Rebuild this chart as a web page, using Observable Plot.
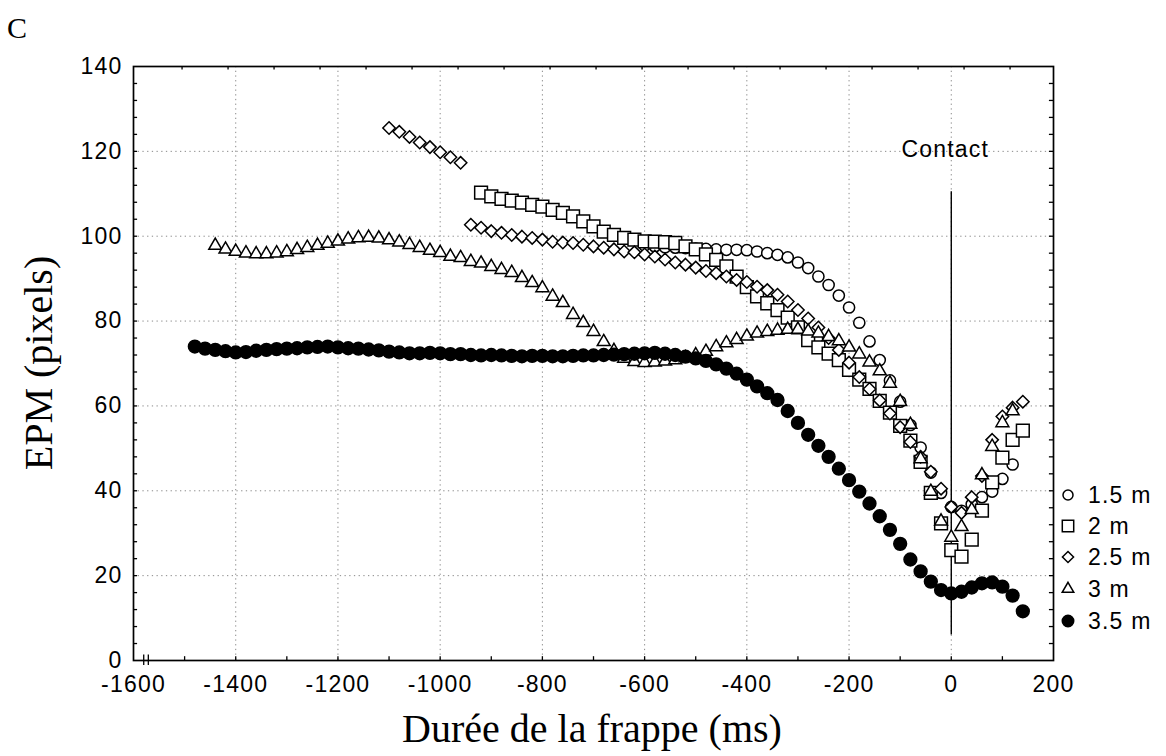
<!DOCTYPE html>
<html><head><meta charset="utf-8">
<script src="https://cdn.jsdelivr.net/npm/d3@7"></script>
<script src="https://cdn.jsdelivr.net/npm/@observablehq/plot@0.6"></script>
<style>
body{margin:0;background:#fff;}
#wrap{position:relative;width:1166px;height:756px;overflow:hidden;background:#fff;}
.lbl{position:absolute;white-space:nowrap;color:#000;}
.serif{font-family:"Liberation Serif","Times New Roman",serif;}
.sans{font-family:"Liberation Sans",Arial,sans-serif;}
</style></head>
<body><div id="wrap"></div>
<script>
// ---- data (time in ms, EPM in pixels) ----
const s15 = [[-600,97.8],[-580,97.6],[-560,97.4],[-540,97.3],[-520,97.2],[-500,97.1],[-480,97.0],[-460,96.9],[-440,96.8],[-420,96.8],[-400,96.7],[-380,96.4],[-360,96.0],[-340,95.6],[-320,95.0],[-300,93.8],[-280,92.5],[-260,90.5],[-240,88.5],[-220,86.0],[-200,83.2],[-180,79.6],[-160,75.2],[-140,70.8],[-120,66.0],[-100,61.0],[-80,55.5],[-60,50.2],[-40,44.3],[-20,39.5],[0,36.2],[20,35.3],[40,36.8],[60,38.5],[80,39.8],[100,42.8],[120,46.2]];
const s2 = [[-920,110.3],[-900,109.4],[-880,108.8],[-860,108.4],[-840,107.9],[-820,107.4],[-800,107.0],[-780,106.2],[-760,105.5],[-740,104.7],[-720,103.5],[-700,102.3],[-680,101.1],[-660,100.3],[-640,99.6],[-620,99.2],[-600,98.8],[-580,98.7],[-560,98.6],[-540,98.4],[-520,97.6],[-500,96.9],[-480,95.7],[-460,94.4],[-440,92.9],[-420,90.5],[-400,88.0],[-380,85.8],[-360,84.2],[-340,82.6],[-320,80.8],[-300,78.5],[-280,75.5],[-260,73.8],[-240,72.3],[-220,70.8],[-200,68.5],[-180,66.2],[-160,64.0],[-140,61.2],[-120,58.4],[-100,55.3],[-80,51.8],[-60,46.8],[-40,39.5],[-20,32.3],[0,26.0],[20,24.5],[40,28.5],[60,35.3],[80,42.0],[100,47.8],[120,52.0],[140,54.2]];
const s25 = [[-1100,125.5],[-1080,124.6],[-1060,123.4],[-1040,122.1],[-1020,121.0],[-1000,119.8],[-980,118.6],[-960,117.3],
[-940,102.7],[-920,102.0],[-900,101.2],[-880,100.8],[-860,100.3],[-840,99.9],[-820,99.6],[-800,99.2],[-780,98.7],[-760,98.5],[-740,98.4],[-720,98.0],[-700,97.6],[-680,97.3],[-660,96.9],[-640,96.4],[-620,96.2],[-600,95.7],[-580,95.2],[-560,94.5],[-540,93.8],[-520,93.3],[-500,92.6],[-480,91.8],[-460,91.3],[-440,90.5],[-420,89.7],[-400,89.2],[-380,88.1],[-360,87.3],[-340,86.2],[-320,84.6],[-300,82.6],[-280,80.6],[-260,78.5],[-240,76.0],[-220,73.2],[-200,70.2],[-180,66.8],[-160,64.0],[-140,61.3],[-120,58.2],[-100,55.0],[-80,51.5],[-60,48.0],[-40,44.5],[-20,40.5],[0,36.2],[20,34.8],[40,38.5],[60,43.5],[80,52.0],[100,57.5],[120,59.6],[140,61.0]];
const s3 = [[-1440,97.8],[-1420,96.9],[-1400,96.4],[-1380,96.0],[-1360,95.8],[-1340,95.8],[-1320,96.0],[-1300,96.3],[-1280,96.8],[-1260,97.3],[-1240,97.8],[-1220,98.3],[-1200,98.8],[-1180,99.3],[-1160,99.6],[-1140,99.7],[-1120,99.5],[-1100,99.1],[-1080,98.6],[-1060,98.0],[-1040,97.3],[-1020,96.6],[-1000,96.1],[-980,95.2],[-960,94.9],[-940,94.0],[-920,93.6],[-900,92.8],[-880,92.1],[-860,91.4],[-840,90.2],[-820,89.0],[-800,87.8],[-780,85.8],[-760,84.3],[-740,81.5],[-720,79.6],[-700,77.5],[-680,75.1],[-660,73.0],[-640,71.2],[-620,70.4],[-600,70.2],[-580,70.3],[-560,70.5],[-540,70.8],[-520,71.3],[-500,72.0],[-480,72.8],[-460,73.9],[-440,74.8],[-420,75.6],[-400,76.4],[-380,77.1],[-360,77.5],[-340,77.8],[-320,78.0],[-300,78.0],[-280,77.6],[-260,77.1],[-240,76.3],[-220,75.3],[-200,73.8],[-180,72.2],[-160,70.3],[-140,68.2],[-120,65.3],[-100,61.0],[-80,55.6],[-60,47.5],[-40,39.8],[-20,32.8],[0,29.0],[20,31.5],[40,35.5],[60,43.7],[80,50.4],[100,56.0],[120,58.8]];
const s35 = [[-1480,74.0],[-1460,73.5],[-1440,73.2],[-1420,72.9],[-1400,72.6],[-1380,72.7],[-1360,73.0],[-1340,73.2],[-1320,73.4],[-1300,73.5],[-1280,73.6],[-1260,73.8],[-1240,73.9],[-1220,74.0],[-1200,73.8],[-1180,73.6],[-1160,73.5],[-1140,73.3],[-1120,73.1],[-1100,72.8],[-1080,72.6],[-1060,72.4],[-1040,72.4],[-1020,72.5],[-1000,72.4],[-980,72.2],[-960,72.2],[-940,72.0],[-920,71.9],[-900,72.0],[-880,71.9],[-860,71.8],[-840,71.7],[-820,71.8],[-800,71.8],[-780,71.7],[-760,71.7],[-740,71.8],[-720,71.9],[-700,71.9],[-680,72.0],[-660,72.1],[-640,72.2],[-620,72.3],[-600,72.4],[-580,72.5],[-560,72.3],[-540,72.0],[-520,71.6],[-500,71.2],[-480,70.6],[-460,69.8],[-440,68.8],[-420,67.6],[-400,66.2],[-380,64.6],[-360,63.0],[-340,61.4],[-320,58.8],[-300,56.0],[-280,53.2],[-260,50.6],[-240,48.0],[-220,45.2],[-200,42.5],[-180,39.8],[-160,37.0],[-140,34.0],[-120,30.8],[-100,27.5],[-80,23.8],[-60,21.0],[-40,18.6],[-20,16.6],[0,15.8],[20,16.2],[40,17.2],[60,18.2],[80,18.4],[100,17.4],[120,15.3],[140,11.6]];

const seriesNames = ["1.5 m","2 m","2.5 m","3 m","3.5 m"];
const seriesData = [s15, s2, s25, s3, s35];

// axes / ticks
const xTicks = [-1600,-1400,-1200,-1000,-800,-600,-400,-200,0,200];
const yTicks = [0,20,40,60,80,100,120,140];
const xGrid = [-1400,-1200,-1000,-800,-600,-400,-200,0];
const yGrid = [20,40,60,80,100,120];
const xInnerTicks = [-1500,-1400,-1300,-1200,-1100,-1000,-900,-800,-700,-600,-500,-400,-300,-200,-100,0,100];
const yInnerTicks = d3.range(4, 140, 4);
const xTopTicks = [-1505,-1415,-1325,-1235,-1145,-1055,-965,-875,-785,-695,-605,-515,-425,-335,-245,-155,-65,25,115];
const axisBreak = [-1580,-1571];
const contact = [{x: 0, y1: 6, y2: 110.5, label: "Contact", ly: 120.5}];

// styles (not data)
const symbolStyle = [
  {symbol: "circle", r: 5.6, fill: "#fff"},
  {symbol: "square", r: 7.2, fill: "#fff"},
  {symbol: "diamond2", r: 5.6, fill: "#fff"},
  {symbol: "triangle", r: 4.8, fill: "#fff"},
  {symbol: "circle", r: 6.4, fill: "#000"}
];

const fmt = d => String(d);
const marks = [
  Plot.gridX(xGrid, {stroke: "#8a8a8a", strokeOpacity: 1, strokeWidth: 1, strokeDasharray: "1.3,3.4"}),
  Plot.gridY(yGrid, {stroke: "#8a8a8a", strokeOpacity: 1, strokeWidth: 1, strokeDasharray: "1.3,3.4"}),
  Plot.ruleX(xInnerTicks, {y1: 0, y2: 0.9, stroke: "#000", strokeWidth: 1.3}),
  Plot.ruleX(xTopTicks, {y1: 140, y2: 139.2, stroke: "#000", strokeWidth: 1.3}),
  Plot.ruleY(yInnerTicks, {x1: -1600, x2: -1592, stroke: "#000", strokeWidth: 1.3}),
  Plot.ruleY(yInnerTicks, {x1: 200, x2: 192, stroke: "#000", strokeWidth: 1.3}),
  Plot.ruleX(axisBreak, {y1: -1.2, y2: 1.3, stroke: "#000", strokeWidth: 1.3}),
  Plot.frame({stroke: "#000", strokeWidth: 1.7}),
  Plot.axisX(xTicks, {tickSize: 0, tickPadding: 15, label: null, tickFormat: fmt}),
  Plot.axisY(yTicks, {tickSize: 0, tickPadding: 11, label: null, tickFormat: fmt}),
  Plot.ruleX(contact, {x: "x", y1: "y1", y2: "y2", stroke: "#000", strokeWidth: 1.4}),
  Plot.text(contact, {x: "x", y: "ly", text: "label", dx: -6, fontSize: 23, style: "letter-spacing:2px"})
];
seriesData.forEach((data, i) => {
  const st = symbolStyle[i];
  marks.push(Plot.dot(data, {x: d => d[0], y: d => d[1], symbol: st.symbol, r: st.r, fill: st.fill, stroke: "#000", strokeWidth: 1.5}));
});

const chart = Plot.plot({
  width: 1166, height: 756,
  marginLeft: 133, marginRight: 113, marginTop: 66, marginBottom: 96,
  x: {domain: [-1600, 200]},
  y: {domain: [0, 140]},
  style: "font-family:'Liberation Sans',Arial,sans-serif;font-size:23px;color:#000;background:transparent;letter-spacing:1.2px;",
  marks
});
const wrap = document.getElementById("wrap");
wrap.appendChild(chart);

// labels
function addLabel(text, cls, css) {
  const d = document.createElement("div");
  d.className = "lbl " + cls;
  d.textContent = text;
  Object.assign(d.style, css);
  wrap.appendChild(d);
  return d;
}
addLabel("C", "serif", {left: "7px", top: "13px", fontSize: "30px", lineHeight: "30px"});
addLabel("Durée de la frappe (ms)", "serif", {left: "592px", top: "729px", fontSize: "40px", lineHeight: "40px", transform: "translate(-50%,-50%)"});
addLabel("EPM (pixels)", "serif", {left: "39px", top: "363px", fontSize: "40px", lineHeight: "40px", transform: "translate(-50%,-50%) rotate(-90deg)"});

// legend
const symMap = {circle: d3.symbolCircle, square: d3.symbolSquare, diamond2: d3.symbolDiamond2, triangle: d3.symbolTriangle};
const legendTop = [495, 526, 557, 589, 621];
seriesNames.forEach((name, i) => {
  const st = symbolStyle[i];
  const row = document.createElement("div");
  row.className = "lbl sans";
  Object.assign(row.style, {left: "1058px", top: (legendTop[i] - 14) + "px", height: "28px", display: "flex", alignItems: "center", fontSize: "23px", letterSpacing: "1.2px"});
  const svg = d3.create("svg").attr("width", 20).attr("height", 20).style("margin-right", "10px");
  svg.append("path").attr("transform", "translate(10,10)")
    .attr("d", d3.symbol(symMap[st.symbol], Math.PI * st.r * st.r * 0.8)())
    .attr("fill", st.fill).attr("stroke", "#000").attr("stroke-width", 1.5);
  row.appendChild(svg.node());
  const span = document.createElement("span");
  span.textContent = name;
  row.appendChild(span);
  wrap.appendChild(row);
});
</script>
</body></html>
